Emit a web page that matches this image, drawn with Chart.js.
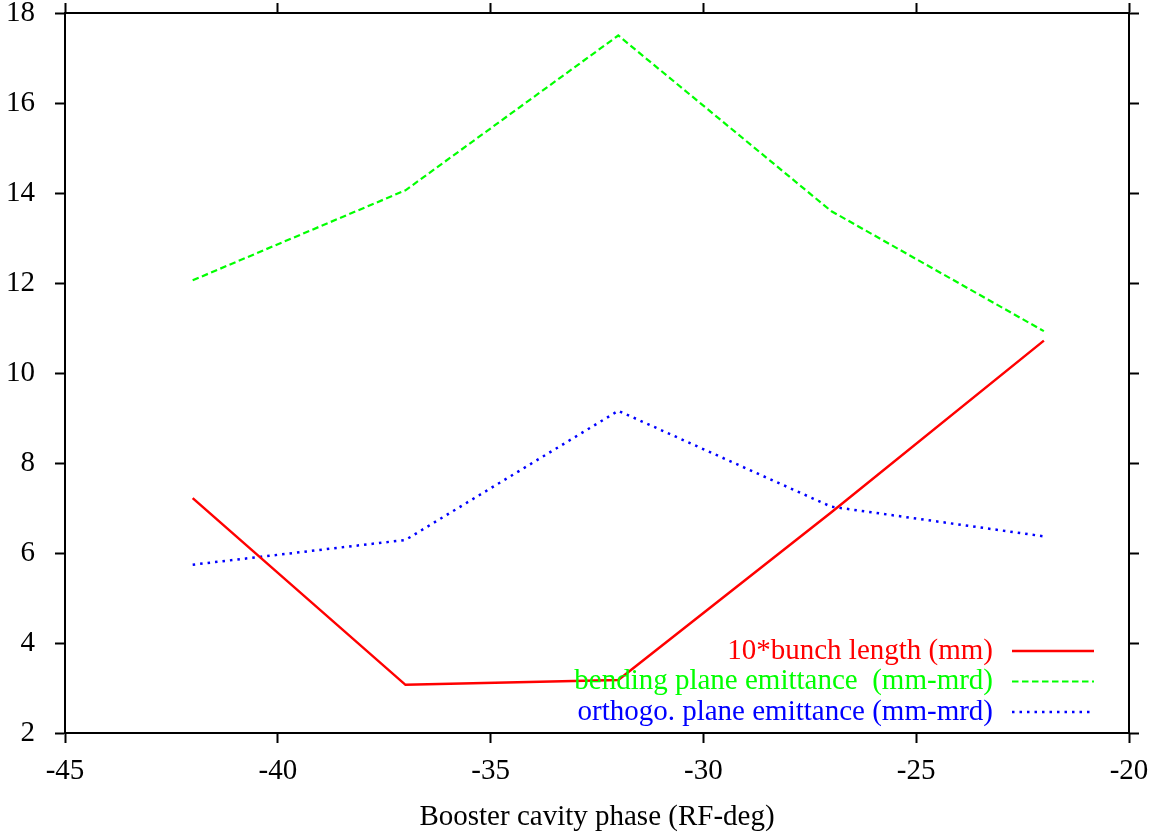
<!DOCTYPE html>
<html>
<head>
<meta charset="utf-8">
<script src="https://cdn.jsdelivr.net/npm/chart.js@4.4.1/dist/chart.umd.min.js"></script>
<style>
  html, body { margin: 0; padding: 0; background: #fff; }
  #wrap { width: 1156px; height: 838px; }
</style>
</head>
<body>
<div id="wrap"><canvas id="myChart" width="1156" height="838"></canvas></div>
<script>
// values
const phases = [-42, -37, -32, -27, -22];
const bunchLength = [7.22, 3.07, 3.18, 6.9, 10.72];
const bendingEmit = [12.06, 14.06, 17.5, 13.6, 10.93];
const orthoEmit = [5.74, 6.29, 9.16, 7.03, 6.37];
const seriesLabels = [
    "10*bunch length (mm)",
    "bending plane emittance  (mm-mrd)",
    "orthogo. plane emittance (mm-mrd)"
];
const xTitle = "Booster cavity phase (RF-deg)";

const serif = "'Liberation Serif', 'DejaVu Serif', serif";
const fontSize = 29;

function points(vals) {
    return phases.map((p, i) => ({ x: p, y: vals[i] }));
}

// gnuplot style key: right aligned text, line sample to its right
const keyPlugin = {
    id: "gnuKey",
    afterDatasetsDraw(chart) {
        const ctx = chart.ctx;
        const area = chart.chartArea;
        ctx.save();
        ctx.font = fontSize + "px " + serif;
        ctx.textAlign = "right";
        ctx.textBaseline = "middle";
        chart.data.datasets.forEach((ds, i) => {
            const y = area.bottom - 82 + i * 30.5;
            ctx.fillStyle = ds.borderColor;
            ctx.fillText(ds.label, area.right - 136, y);
            ctx.strokeStyle = ds.borderColor;
            ctx.lineWidth = ds.borderWidth;
            ctx.setLineDash(ds.borderDash || []);
            ctx.beginPath();
            ctx.moveTo(area.right - 117, y);
            ctx.lineTo(area.right - 35, y);
            ctx.stroke();
        });
        ctx.restore();
    }
};

const frame = { color: "#000", width: 2 };
const outTicks = { drawOnChartArea: false, drawTicks: true, tickLength: 10, tickWidth: 2, tickColor: "#000" };

function noPad(s) {
    s.paddingTop = 0;
    s.paddingBottom = 0;
    s.paddingLeft = 0;
    s.paddingRight = 0;
}

new Chart("myChart", {
    type: "line",
    data: {
        datasets: [{
            label: seriesLabels[0],
            data: points(bunchLength),
            borderColor: "#ff0000",
            borderWidth: 2.5,
            pointRadius: 0,
            tension: 0
        }, {
            label: seriesLabels[1],
            data: points(bendingEmit),
            borderColor: "#00ff00",
            borderWidth: 2.2,
            borderDash: [6.5, 3.5],
            pointRadius: 0,
            tension: 0
        }, {
            label: seriesLabels[2],
            data: points(orthoEmit),
            borderColor: "#0000ff",
            borderWidth: 2.5,
            borderDash: [2.5, 5],
            pointRadius: 0,
            tension: 0
        }]
    },
    options: {
        responsive: false,
        animation: false,
        layout: { padding: 0 },
        plugins: {
            legend: { display: false },
            tooltip: { enabled: false }
        },
        scales: {
            x: {
                type: "linear",
                position: "bottom",
                min: -45,
                max: -20,
                border: frame,
                grid: outTicks,
                ticks: {
                    stepSize: 5,
                    color: "#000",
                    font: { family: serif, size: fontSize },
                    padding: 11,
                    maxRotation: 0
                },
                title: {
                    display: true,
                    text: xTitle,
                    color: "#000",
                    font: { family: serif, size: fontSize },
                    padding: { top: 0, bottom: 3 }
                },
                afterFit(s) { s.height = 105; noPad(s); }
            },
            x2: {
                type: "linear",
                position: "top",
                min: -45,
                max: -20,
                border: frame,
                grid: outTicks,
                ticks: { stepSize: 5, display: false },
                afterFit(s) { s.height = 13; noPad(s); }
            },
            y: {
                type: "linear",
                position: "left",
                min: 2,
                max: 18,
                border: frame,
                grid: outTicks,
                ticks: {
                    stepSize: 2,
                    color: "#000",
                    font: { family: serif, size: fontSize },
                    padding: 20
                },
                afterFit(s) { s.width = 65; noPad(s); }
            },
            y2: {
                type: "linear",
                position: "right",
                min: 2,
                max: 18,
                border: frame,
                grid: outTicks,
                ticks: { stepSize: 2, display: false },
                afterFit(s) { s.width = 27; noPad(s); }
            }
        }
    },
    plugins: [keyPlugin]
});
</script>
</body>
</html>
